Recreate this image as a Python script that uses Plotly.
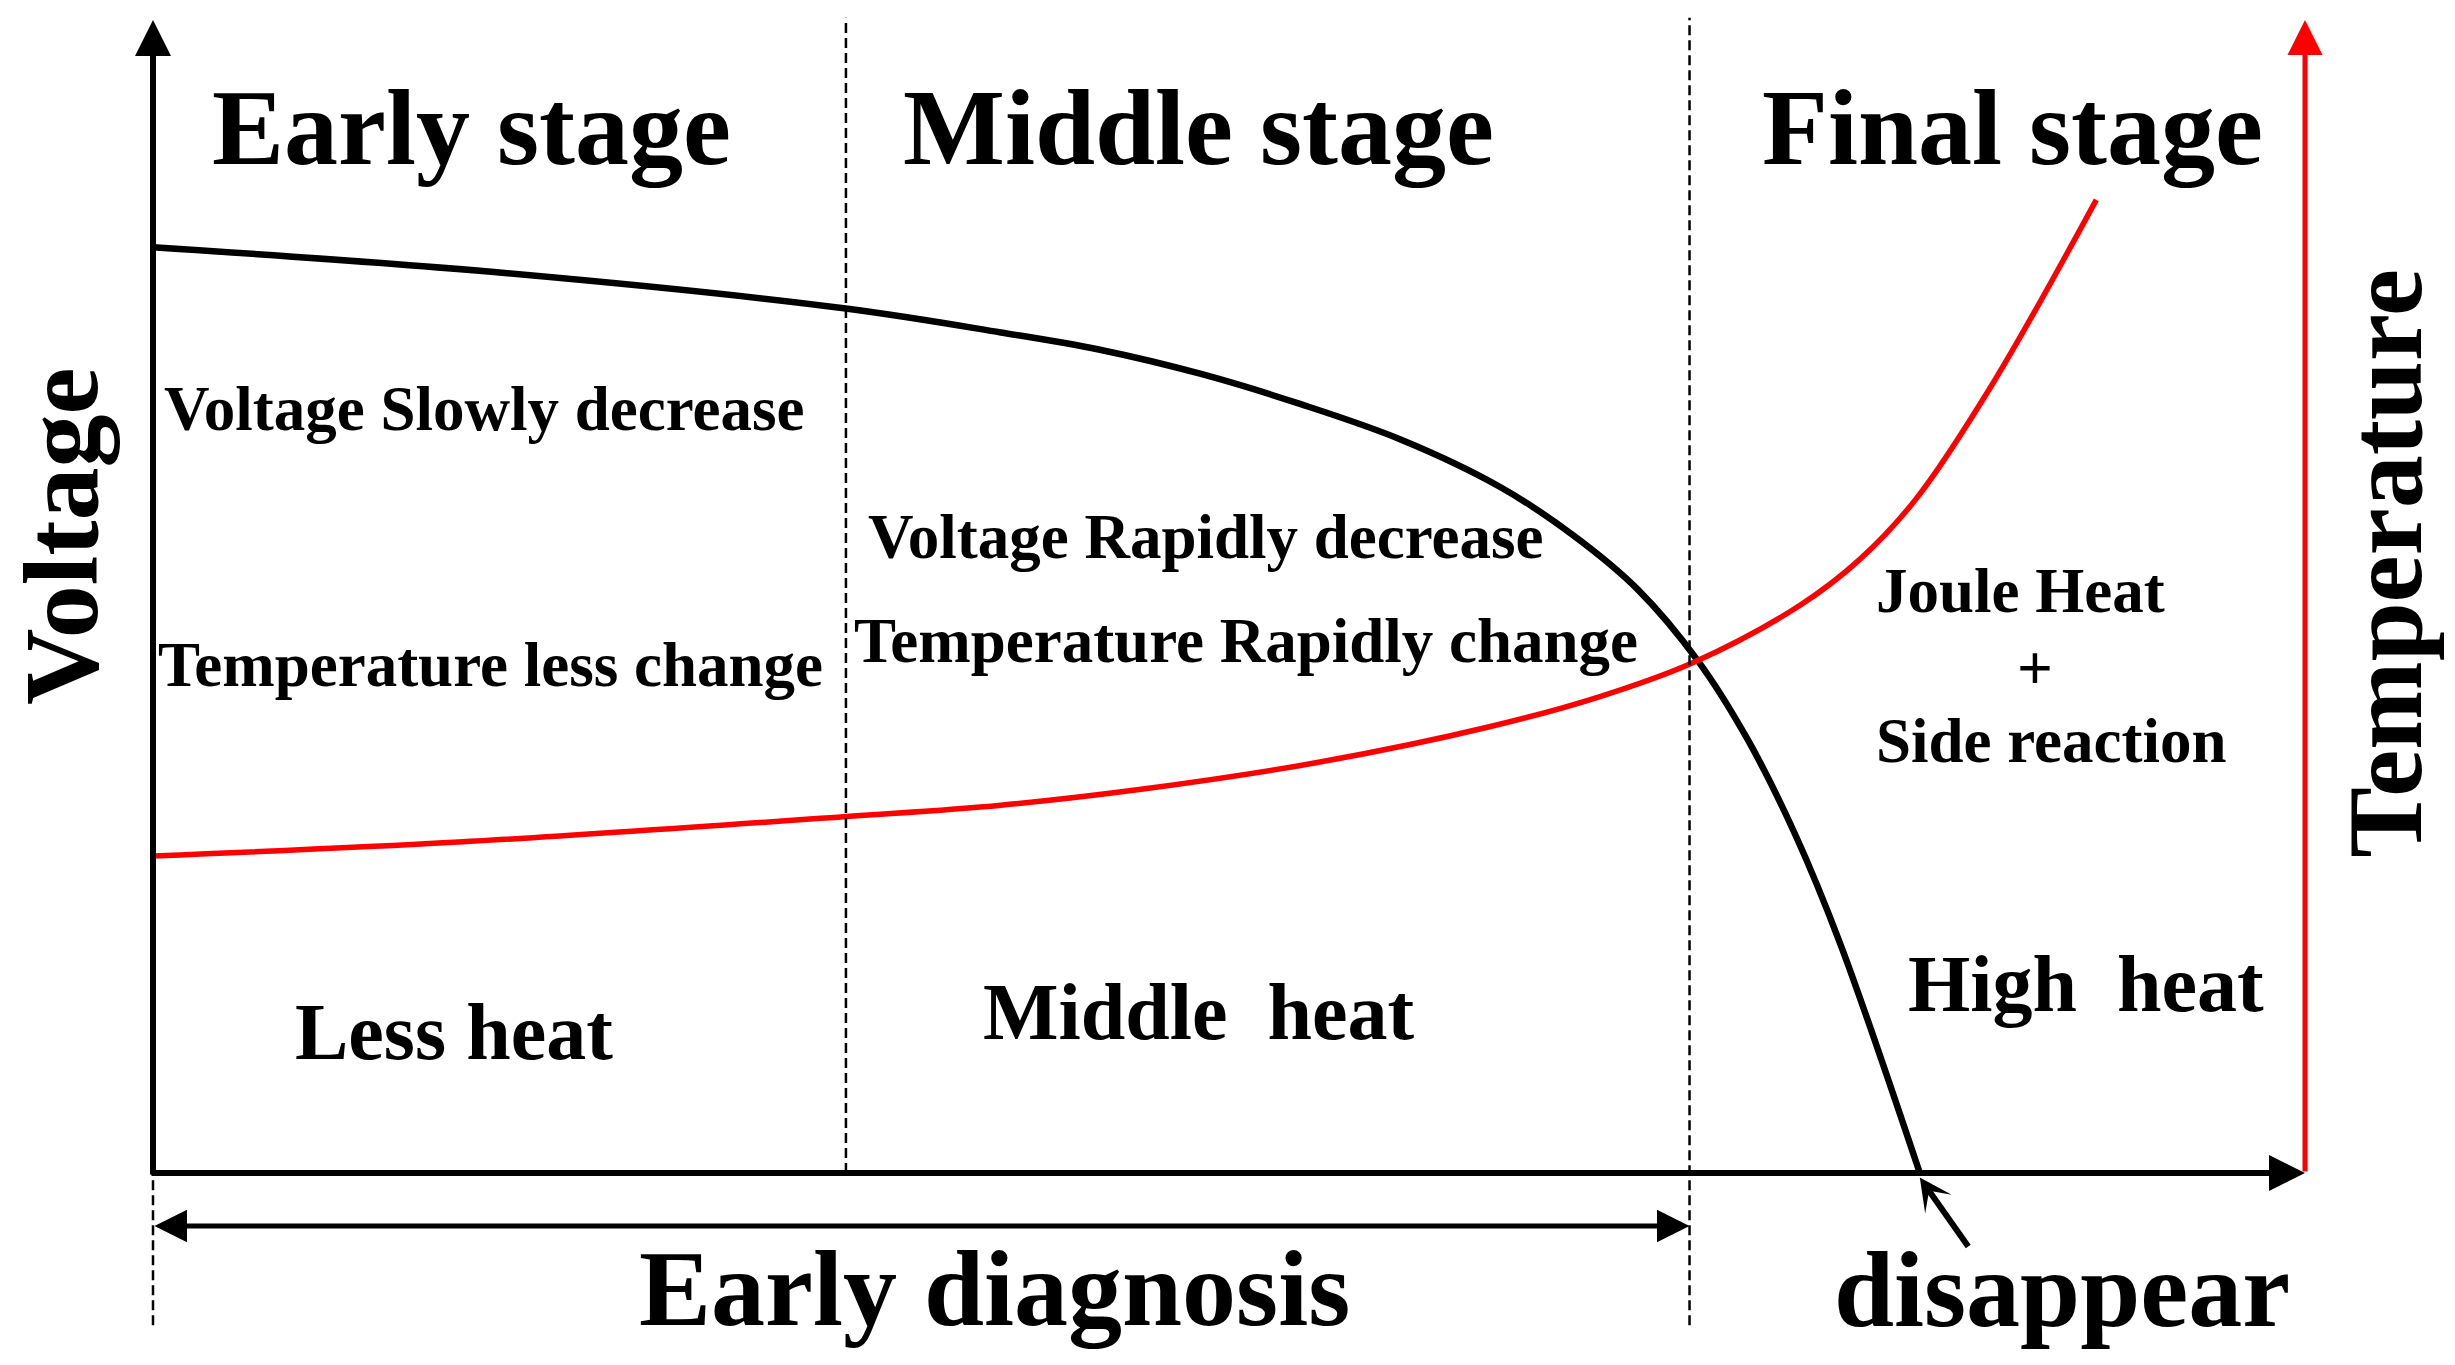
import plotly.graph_objects as go

# ---------------- data (normalised units: x = time 0..100, y = 0..100) ----------------
time_v = [0, 16.1, 32.1, 39.4, 44.0, 48.7, 53.3, 58.0, 62.6, 66.0, 69.0, 71.8, 74.1, 76.3, 78.4, 82.1]
voltage = [80.3, 78.1, 75.0, 72.9, 71.4, 69.3, 66.7, 63.6, 59.5, 55.3, 50.6, 44.4, 37.6, 29.4, 19.9, 0.0]

time_t = [0, 14.2, 32.1, 39.4, 46.0, 54.1, 62.1, 67.2, 71.6, 76.5, 79.3, 81.9, 85.5, 90.3]
temperature = [27.5, 28.7, 30.9, 31.9, 33.3, 35.6, 38.7, 41.3, 44.3, 49.2, 53.2, 58.4, 68.5, 84.4]

stage_bounds = [32.2, 71.4]          # dashed stage separators
stage_titles = ["Early stage", "Middle stage", "Final stage"]
stage_title_x = [14.8, 48.6, 86.4]
stage_title_y = 90.6

heat_labels = ["Less heat", "Middle  heat", "High  heat"]
heat_x = [14.0, 48.6, 89.8]
heat_y = [12.2, 14.0, 16.4]

notes = ["Voltage Slowly decrease", "Temperature less change",
         "Voltage Rapidly decrease", "Temperature Rapidly change",
         "Joule Heat", "+", "Side reaction"]
notes_x = [15.4, 15.7, 48.9, 50.8, 86.8, 87.45, 88.2]
notes_y = [66.3, 44.1, 55.2, 46.1, 50.5, 43.8, 37.5]

X_MIN, X_MAX, Y_MIN, Y_MAX = 0, 100, 0, 100
DIAG_Y = -4.6          # level of the "Early diagnosis" double arrow
DASH_TOP, DASH_BOTTOM = 100.2, -13.2
BOTTOM_LABEL_Y = -10.1
vanish_x, vanish_tail = 82.1, (84.4, -6.5)

# figure frame (pixels) -> where the two axes sit inside the picture
W, H = 2455, 1365
AX_L, AX_R, AX_T, AX_B = 153, 2305, 20, 1173
ux = (X_MAX - X_MIN) / (AX_R - AX_L)
uy = (Y_MAX - Y_MIN) / (AX_B - AX_T)
x_range = [X_MIN - AX_L * ux, X_MAX + (W - AX_R) * ux]
y_range = [Y_MIN - (H - AX_B) * uy, Y_MAX + AX_T * uy]

FONT = "Liberation Serif"

fig = go.Figure()

fig.add_trace(go.Scatter(x=time_v, y=voltage, mode="lines",
                         line=dict(color="black", width=6.5, shape="spline", smoothing=1.0),
                         hoverinfo="skip"))
fig.add_trace(go.Scatter(x=time_t, y=temperature, mode="lines",
                         line=dict(color="#ff0000", width=5.5, shape="spline", smoothing=1.0),
                         hoverinfo="skip"))

DASH = dict(color="black", width=2.5, dash="10px,5px")
shapes = [
    dict(type="line", xref="x", yref="y", x0=stage_bounds[0], x1=stage_bounds[0],
         y0=Y_MIN, y1=DASH_TOP, line=DASH),
    dict(type="line", xref="x", yref="y", x0=stage_bounds[1], x1=stage_bounds[1],
         y0=DASH_BOTTOM, y1=DASH_TOP, line=DASH),
    dict(type="line", xref="x", yref="y", x0=X_MIN, x1=X_MIN,
         y0=DASH_BOTTOM, y1=Y_MIN, line=DASH),
]

ann = []


def arrow(x, y, ax, ay, color, width, size, head=2, side="end"):
    ann.append(dict(x=x, y=y, ax=ax, ay=ay, xref="x", yref="y", axref="x", ayref="y",
                    text="", showarrow=True, arrowhead=head, startarrowhead=head,
                    arrowsize=size, startarrowsize=size, arrowwidth=width,
                    arrowcolor=color, arrowside=side, standoff=0, startstandoff=0))


# axes drawn as arrows
arrow(X_MIN, Y_MAX, X_MIN, Y_MIN - 0.25, "black", 6, 1.2)
arrow(X_MAX, Y_MIN, X_MIN - 0.14, Y_MIN, "black", 6, 1.2)
arrow(X_MAX, Y_MAX, X_MAX, Y_MIN, "#ff0000", 5, 1.4)
arrow(stage_bounds[1], DIAG_Y, X_MIN, DIAG_Y, "black", 5, 1.3, side="end+start")
arrow(vanish_x, -0.4, vanish_tail[0], vanish_tail[1], "black", 6, 0.9, head=3)


def label(text, x, y, size, angle=0):
    ann.append(dict(x=x, y=y, xref="x", yref="y", text=text, showarrow=False,
                    textangle=angle, xanchor="center", yanchor="middle",
                    font=dict(family=FONT, size=size, color="black", weight="bold")))


for t, x in zip(stage_titles, stage_title_x):
    label(t, x, stage_title_y, 108)
for t, x, y in zip(heat_labels, heat_x, heat_y):
    label(t, x, y, 80)
for t, x, y in zip(notes, notes_x, notes_y):
    label(t, x, y, 63)

label("Early diagnosis", 39.1, BOTTOM_LABEL_Y, 108)
label("disappear", 88.7, BOTTOM_LABEL_Y, 108)
label("Voltage", -4.25, 55.2, 106, angle=-90)
label("Temperature", 103.7, 52.9, 106, angle=-90)

fig.update_layout(
    width=W, height=H,
    margin=dict(l=0, r=0, t=0, b=0, pad=0),
    paper_bgcolor="white", plot_bgcolor="white",
    showlegend=False,
    shapes=shapes, annotations=ann,
    xaxis=dict(range=x_range, visible=False, fixedrange=True),
    yaxis=dict(range=y_range, visible=False, fixedrange=True),
)

fig.write_html("out.html", config={"displayModeBar": False},
               post_script="document.body.style.margin='0';")
